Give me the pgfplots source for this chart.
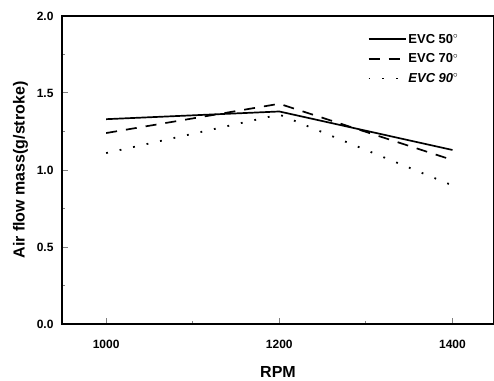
\documentclass[border=0pt]{standalone}
\usepackage{pgfplots}
\pgfplotsset{compat=1.18}
\usepackage{fontspec}
\setmainfont{Liberation Sans}
\begin{document}
\begin{tikzpicture}
\useasboundingbox (-62pt,-56pt) rectangle (432pt,16pt+308pt);
\begin{axis}[
  scale only axis, width=432pt, height=308pt,
  xmin=949, xmax=1448, ymin=0, ymax=2.0,
  xtick={1000,1200,1400}, minor xtick={1100,1300},
  ytick={0,0.5,1.0,1.5,2.0}, minor ytick={0.25,0.75,1.25,1.75},
  yticklabel style={/pgf/number format/fixed,/pgf/number format/fixed zerofill,/pgf/number format/precision=1, xshift=-5pt},
  xticklabel style={/pgf/number format/set thousands separator={}, yshift=-13pt},
  /pgf/number format/assume math mode=true,
  tick label style={font=\fontsize{12}{14}\selectfont\bfseries},
  tick align=inside, xtick pos=left, ytick pos=left,
  major tick length=6pt, minor tick length=3pt,
  tick style={line width=1pt},
  axis line style={line width=1.2pt},
  xlabel={RPM}, ylabel={Air flow mass(g/stroke)},
  label style={font=\fontsize{16}{18}\selectfont\bfseries},
  xlabel style={at={(axis description cs:0.5,0)}, anchor=center, yshift=-48pt},
  ylabel style={at={(axis description cs:0,0.5)}, anchor=center, yshift=41.5pt},
  legend style={draw=none, fill=none, at={(0.70,0.955)}, anchor=north west,
    font=\fontsize{13}{15}\selectfont\bfseries, row sep=5pt,
    legend cell align=left},
  legend image code/.code={\draw[#1] (0pt,0pt) -- (37pt,0pt);},
]
\addplot[black, line width=1.7pt] coordinates {(1000,1.33) (1200,1.38) (1400,1.13)};
\addlegendentry{EVC 50$^{\circ}$}
\addplot[black, line width=1.7pt, dash pattern=on 11pt off 9pt] coordinates {(1000,1.24) (1200,1.43) (1400,1.065)};
\addlegendentry{EVC 70$^{\circ}$}
\addplot[black, line width=1.8pt, dash pattern=on 1.8pt off 12pt] coordinates {(1000,1.11) (1200,1.36) (1400,0.9)};
\addlegendentry{\itshape EVC 90$^{\circ}$}
\end{axis}
\end{tikzpicture}
\end{document}
